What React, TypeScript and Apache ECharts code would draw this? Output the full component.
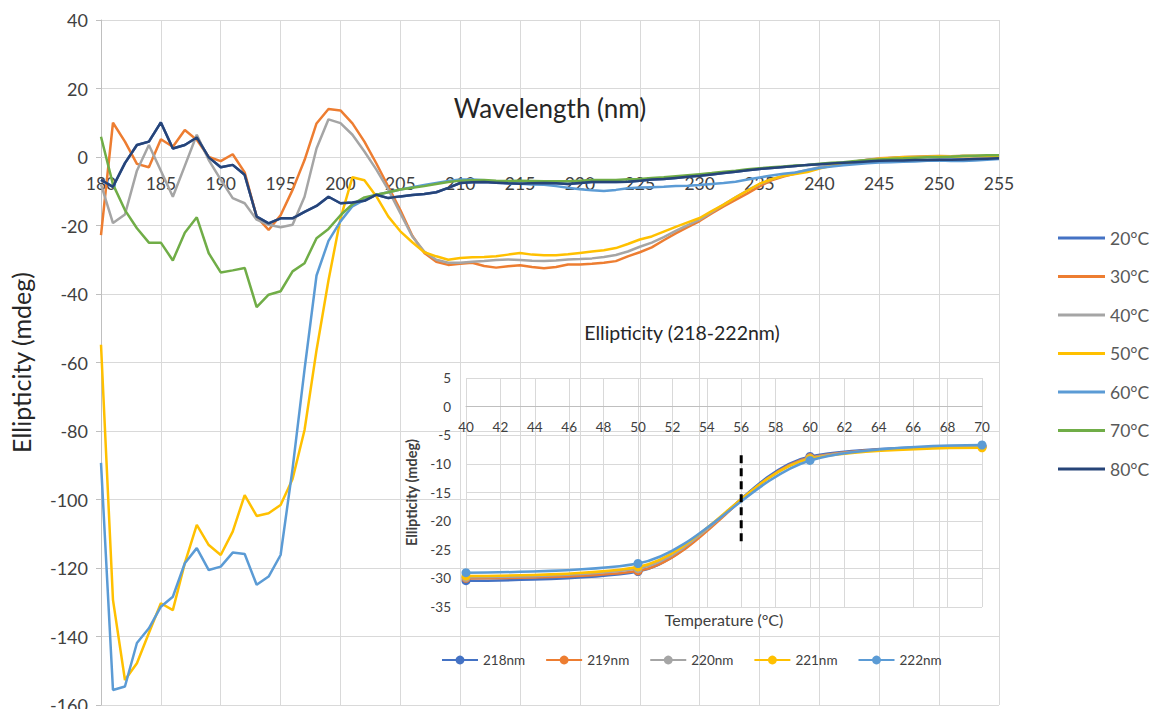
import React, { useEffect, useRef } from 'react';
import * as echarts from 'echarts';

// ---------- main chart data ----------
const wavelengths = [
  180, 181, 182, 183, 184, 185, 186, 187, 188, 189,
  190, 191, 192, 193, 194, 195, 196, 197, 198, 199,
  200, 201, 202, 203, 204, 205, 206, 207, 208, 209,
  210, 211, 212, 213, 214, 215, 216, 217, 218, 219,
  220, 221, 222, 223, 224, 225, 226, 227, 228, 229,
  230, 231, 232, 233, 234, 235, 236, 237, 238, 239,
  240, 241, 242, 243, 244, 245, 246, 247, 248, 249,
  250, 251, 252, 253, 254, 255,
];

// 20°C lies underneath the 80°C trace in the picture
const c20 = [
  -6.7, -8.7, -1.8, 3.5, 4.5, 10.1, 2.5, 3.5, 5.7, -0.1,
  -3.0, -2.3, -5.2, -17.4, -19.4, -17.9, -17.9, -16.0, -14.3, -11.6,
  -13.5, -13.3, -12.8, -11.0, -12.0, -11.5, -11.1, -10.8, -10.3, -9.0,
  -7.6, -7.4, -7.3, -7.5, -7.7, -7.8, -7.7, -7.6, -7.7, -7.9,
  -7.6, -7.3, -7.3, -7.3, -7.2, -6.9, -6.6, -6.4, -6.1, -5.8,
  -5.5, -5.1, -4.7, -4.3, -3.9, -3.5, -3.2, -2.9, -2.6, -2.3,
  -2.1, -1.9, -1.7, -1.5, -1.3, -1.1, -1.0, -1.0, -0.9, -0.9,
  -0.8, -0.8, -0.7, -0.6, -0.5, -0.4,
];
const c30 = [
  -22.8, 10.0, 4.5, -2.0, -3.0, 5.2, 3.0, 7.9, 5.0, 0.0,
  -1.2, 0.8, -4.5, -17.5, -21.3, -17.0, -9.6, -0.9, 9.8, 14.0,
  13.6, 9.8, 4.5, -1.9, -8.7, -15.5, -23.0, -28.0, -30.6, -31.5,
  -31.2, -30.9, -31.8, -32.3, -31.9, -31.6, -32.1, -32.5, -32.1, -31.4,
  -31.4, -31.2, -30.9, -30.4, -29.0, -27.8, -26.4, -24.3, -22.3, -20.5,
  -18.7, -16.5, -14.4, -12.5, -10.6, -8.6, -6.8, -5.7, -4.8, -4.1,
  -3.2, -2.4, -1.8, -1.3, -0.8, -0.4, -0.2, 0.0, 0.1, 0.2,
  0.3, 0.2, 0.3, 0.3, 0.3, 0.3,
];
const c40 = [
  -8.0, -19.3, -16.8, -4.0, 3.5, -4.0, -11.6, -2.6, 6.5, -0.9,
  -6.6, -12.0, -13.5, -18.3, -19.8, -20.5, -19.8, -11.6, 2.5, 11.0,
  9.9, 6.5, 1.6, -3.7, -9.6, -16.4, -23.2, -27.6, -30.0, -30.9,
  -30.9, -30.6, -30.4, -30.1, -29.9, -30.1, -30.3, -30.4, -30.2, -29.9,
  -29.8, -29.6, -29.2, -28.6, -27.6, -26.2, -25.0, -23.4, -21.6, -19.9,
  -18.3, -16.1, -13.9, -11.8, -9.7, -8.0, -6.5, -5.5, -4.6, -3.8,
  -3.0, -2.4, -1.8, -1.3, -0.9, -0.5, -0.3, -0.1, 0.0, 0.1,
  0.2, 0.2, 0.3, 0.3, 0.3, 0.3,
];
const c50 = [
  -54.8, -129.3, -152.7, -147.8, -139.0, -130.3, -132.3, -118.6, -107.4, -113.3,
  -116.2, -109.4, -98.7, -104.8, -104.0, -101.6, -94.0, -79.7, -56.4, -36.0,
  -18.0, -5.9, -6.8, -11.5, -17.4, -21.7, -24.9, -27.8, -29.0, -30.0,
  -29.5, -29.3, -29.2, -29.0, -28.5, -28.0, -28.5, -28.7, -28.7, -28.4,
  -28.0, -27.6, -27.2, -26.6, -25.4, -24.1, -23.2, -21.8, -20.4, -19.1,
  -17.8, -15.8, -13.9, -11.8, -9.8, -7.8, -6.5, -5.5, -5.0, -4.4,
  -3.4, -2.6, -2.0, -1.5, -1.0, -0.5, -0.3, -0.1, 0.0, 0.1,
  0.2, 0.1, 0.3, 0.3, 0.3, 0.3,
];
const c60 = [
  -89.3, -155.6, -154.6, -141.9, -137.6, -131.3, -128.4, -118.6, -114.2, -120.6,
  -119.6, -115.5, -115.9, -124.9, -122.5, -116.2, -91.0, -62.0, -34.6, -24.5,
  -18.8, -14.4, -12.5, -11.0, -10.3, -9.5, -8.8, -8.2, -7.6, -7.0,
  -6.6, -6.6, -6.8, -7.3, -7.7, -7.8, -8.0, -8.1, -8.5, -9.0,
  -9.4, -9.7, -9.9, -9.6, -9.1, -8.9, -8.8, -8.7, -8.5, -8.4,
  -8.2, -7.9, -7.6, -7.2, -6.6, -6.0, -5.4, -4.9, -4.5, -3.8,
  -3.2, -2.8, -2.4, -2.1, -1.8, -1.6, -1.5, -1.4, -1.3, -1.1,
  -1.0, -1.2, -1.2, -1.0, -0.8, -0.6,
];
const c70 = [
  5.9, -8.0, -15.5, -20.8, -25.0, -25.0, -30.2, -22.1, -17.6, -28.1,
  -33.7, -33.1, -32.4, -43.8, -40.2, -39.2, -33.4, -31.0, -23.7, -21.0,
  -17.0, -13.8, -11.8, -11.0, -10.3, -9.5, -9.0, -8.5, -7.9, -7.3,
  -6.9, -6.8, -6.7, -6.9, -7.0, -6.9, -7.0, -7.1, -7.1, -7.1,
  -6.9, -6.7, -6.7, -6.7, -6.5, -6.4, -6.1, -5.9, -5.6, -5.3,
  -5.0, -4.7, -4.3, -4.0, -3.6, -3.3, -3.0, -2.8, -2.5, -2.3,
  -2.0, -1.7, -1.5, -1.2, -0.9, -0.7, -0.5, -0.4, -0.2, -0.1,
  0.0, 0.1, 0.3, 0.4, 0.5, 0.5,
];
const c80 = [
  -6.7, -8.7, -1.8, 3.5, 4.5, 10.1, 2.5, 3.5, 5.7, -0.1,
  -3.0, -2.3, -5.2, -17.4, -19.4, -17.9, -17.9, -16.0, -14.3, -11.6,
  -13.5, -13.3, -12.8, -11.0, -12.0, -11.5, -11.1, -10.8, -10.3, -9.0,
  -7.6, -7.4, -7.3, -7.5, -7.7, -7.8, -7.7, -7.6, -7.7, -7.9,
  -7.6, -7.3, -7.3, -7.3, -7.2, -6.9, -6.6, -6.4, -6.1, -5.8,
  -5.5, -5.1, -4.7, -4.3, -3.9, -3.5, -3.2, -2.9, -2.6, -2.3,
  -2.1, -1.9, -1.7, -1.5, -1.3, -1.1, -1.0, -1.0, -0.9, -0.9,
  -0.8, -0.8, -0.7, -0.6, -0.5, -0.4,
];

const mainNames = ['20°C', '30°C', '40°C', '50°C', '60°C', '70°C', '80°C'];
const mainValues = [c20, c30, c40, c50, c60, c70, c80];
const mainColors = ['#4472C4', '#ED7D31', '#A5A5A5', '#FFC000', '#5B9BD5', '#70AD47', '#264478'];

// ---------- inset data ----------
const temperatures = [40, 50, 60, 70];
const e218 = [-30.4, -28.8, -8.7, -6.9];
const e219 = [-30.0, -28.7, -8.9, -7.0];
const e220 = [-29.8, -28.3, -9.0, -7.0];
const e221 = [-29.6, -28.0, -9.1, -7.2];
const e222 = [-29.0, -27.4, -9.4, -6.7];
const insetNames = ['218nm', '219nm', '220nm', '221nm', '222nm'];
const insetValues = [e218, e219, e220, e221, e222];
const insetColors = ['#4472C4', '#ED7D31', '#A5A5A5', '#FFC000', '#5B9BD5'];
const midpointTemp = 56;
const midpointSpan = [-8.5, -24];

const FONT = 'Lato';
const GRID = '#d9d9d9';
const LABEL = '#404040';

// layout (pixels)
const MAIN = { left: 101, right: 155, top: 20, bottom: 4 };
const INSET = { left: 466, right: 172, top: 378, bottom: 102 };
const H = 709;

export default function App() {
  const ref = useRef<HTMLDivElement>(null);

  useEffect(() => {
    if (!ref.current) return;
    const chart = echarts.init(ref.current, undefined, { renderer: 'svg' });

    // put each x axis on the y = 0 line of its grid
    const mainBottom = H - MAIN.bottom;
    const mainZero = MAIN.top + (mainBottom - MAIN.top) * (40 / 200);
    const insetBottom = H - INSET.bottom;
    const insetZero = INSET.top + (insetBottom - INSET.top) * (5 / 40);

    const mainSeries = mainNames.map((name, i) => ({
      name,
      type: 'line',
      xAxisIndex: 0,
      yAxisIndex: 0,
      data: wavelengths.map((w, j) => [w, mainValues[i][j]]),
      symbol: 'none',
      lineStyle: { width: 2.5, color: mainColors[i] },
      itemStyle: { color: mainColors[i] },
      z: 2 + i,
      silent: true,
    }));

    const insetSeries = insetNames.map((name, i) => ({
      name,
      type: 'line',
      xAxisIndex: 1,
      yAxisIndex: 1,
      data: temperatures.map((t, j) => [t, insetValues[i][j]]),
      smooth: 0.32,
      symbol: 'circle',
      symbolSize: 9,
      lineStyle: { width: 2.5, color: insetColors[i] },
      itemStyle: { color: insetColors[i] },
      z: 10 + i,
      silent: true,
    }));

    const option: any = {
      animation: false,
      backgroundColor: '#ffffff',
      textStyle: { fontFamily: FONT },
      title: [
        {
          text: 'Ellipticity (218-222nm)',
          left: 682,
          top: 322,
          textAlign: 'center',
          padding: 0,
          textStyle: { fontSize: 19.5, fontWeight: 'normal', color: '#262626', fontFamily: FONT },
        },
      ],
      grid: [
        { ...MAIN, outerBoundsMode: 'none' },
        { ...INSET, outerBoundsMode: 'none' },
      ],
      xAxis: [
        {
          type: 'value',
          gridIndex: 0,
          min: 180,
          max: 255,
          interval: 5,
          offset: mainZero - mainBottom,
          axisLine: { show: true, onZero: false, lineStyle: { color: GRID, width: 1 } },
          axisTick: { show: false },
          axisLabel: { fontSize: 17.5, color: LABEL, margin: 17, fontFamily: FONT },
          splitLine: { show: true, lineStyle: { color: GRID, width: 1 } },
          name: 'Wavelength (nm)',
          nameLocation: 'middle',
          nameGap: -49,
          nameMoveOverlap: false,
          nameTextStyle: { fontSize: 26, color: '#262626', verticalAlign: 'middle', fontFamily: FONT },
        },
        {
          type: 'value',
          gridIndex: 1,
          min: 40,
          max: 70,
          interval: 2,
          offset: insetZero - insetBottom,
          axisLine: { show: true, onZero: false, lineStyle: { color: '#bfbfbf', width: 1 } },
          axisTick: { show: false },
          axisLabel: { fontSize: 13.5, color: LABEL, margin: 13, fontFamily: FONT },
          splitLine: { show: true, lineStyle: { color: GRID, width: 1 } },
          name: 'Temperature (°C)',
          nameLocation: 'middle',
          nameGap: 213,
          nameMoveOverlap: false,
          nameTextStyle: { fontSize: 16, color: LABEL, verticalAlign: 'middle', fontFamily: FONT },
        },
      ],
      yAxis: [
        {
          type: 'value',
          gridIndex: 0,
          min: -160,
          max: 40,
          interval: 20,
          axisLine: { show: true, onZero: false, lineStyle: { color: '#bfbfbf', width: 1 } },
          axisTick: { show: true, length: 5, lineStyle: { color: '#bfbfbf' } },
          axisLabel: { fontSize: 18, color: LABEL, margin: 13, fontFamily: FONT },
          splitLine: { show: true, lineStyle: { color: GRID, width: 1 } },
          name: 'Ellipticity (mdeg)',
          nameLocation: 'middle',
          nameRotate: 90,
          nameGap: 68,
          nameMoveOverlap: false,
          nameTextStyle: { fontSize: 25, color: '#262626', fontFamily: FONT },
        },
        {
          type: 'value',
          gridIndex: 1,
          min: -35,
          max: 5,
          interval: 5,
          axisLine: { show: false, onZero: false },
          axisTick: { show: false },
          axisLabel: { fontSize: 13.5, color: LABEL, margin: 15, fontFamily: FONT },
          splitLine: { show: true, lineStyle: { color: GRID, width: 1 } },
          name: 'Ellipticity (mdeg)',
          nameLocation: 'middle',
          nameRotate: 90,
          nameGap: 47,
          nameMoveOverlap: false,
          nameTextStyle: { fontSize: 14.5, fontWeight: 'bold', color: LABEL, fontFamily: FONT },
        },
      ],
      legend: [
        {
          data: mainNames,
          orient: 'vertical',
          left: 1058,
          top: 229,
          padding: 0,
          icon: 'rect',
          itemWidth: 47,
          itemHeight: 3,
          itemGap: 20.5,
          textStyle: { fontSize: 17.5, color: '#595959', fontFamily: FONT },
        },
        {
          data: insetNames,
          orient: 'horizontal',
          left: 441,
          top: 653,
          padding: 0,
          itemWidth: 36,
          itemHeight: 11,
          itemGap: 20,
          textStyle: { fontSize: 13.5, color: LABEL, fontFamily: FONT },
        },
      ],
      series: [
        ...mainSeries,
        ...insetSeries,
        {
          name: 'midpoint',
          type: 'line',
          xAxisIndex: 1,
          yAxisIndex: 1,
          data: midpointSpan.map((v) => [midpointTemp, v]),
          symbol: 'none',
          lineStyle: { color: '#000000', width: 3, type: [8, 5] },
          z: 20,
          silent: true,
        },
      ],
    };

    chart.setOption(option);
    return () => chart.dispose();
  }, []);

  return (
    <div
      ref={ref}
      style={{ position: 'fixed', left: 0, top: 0, width: 1154, height: H }}
    />
  );
}
